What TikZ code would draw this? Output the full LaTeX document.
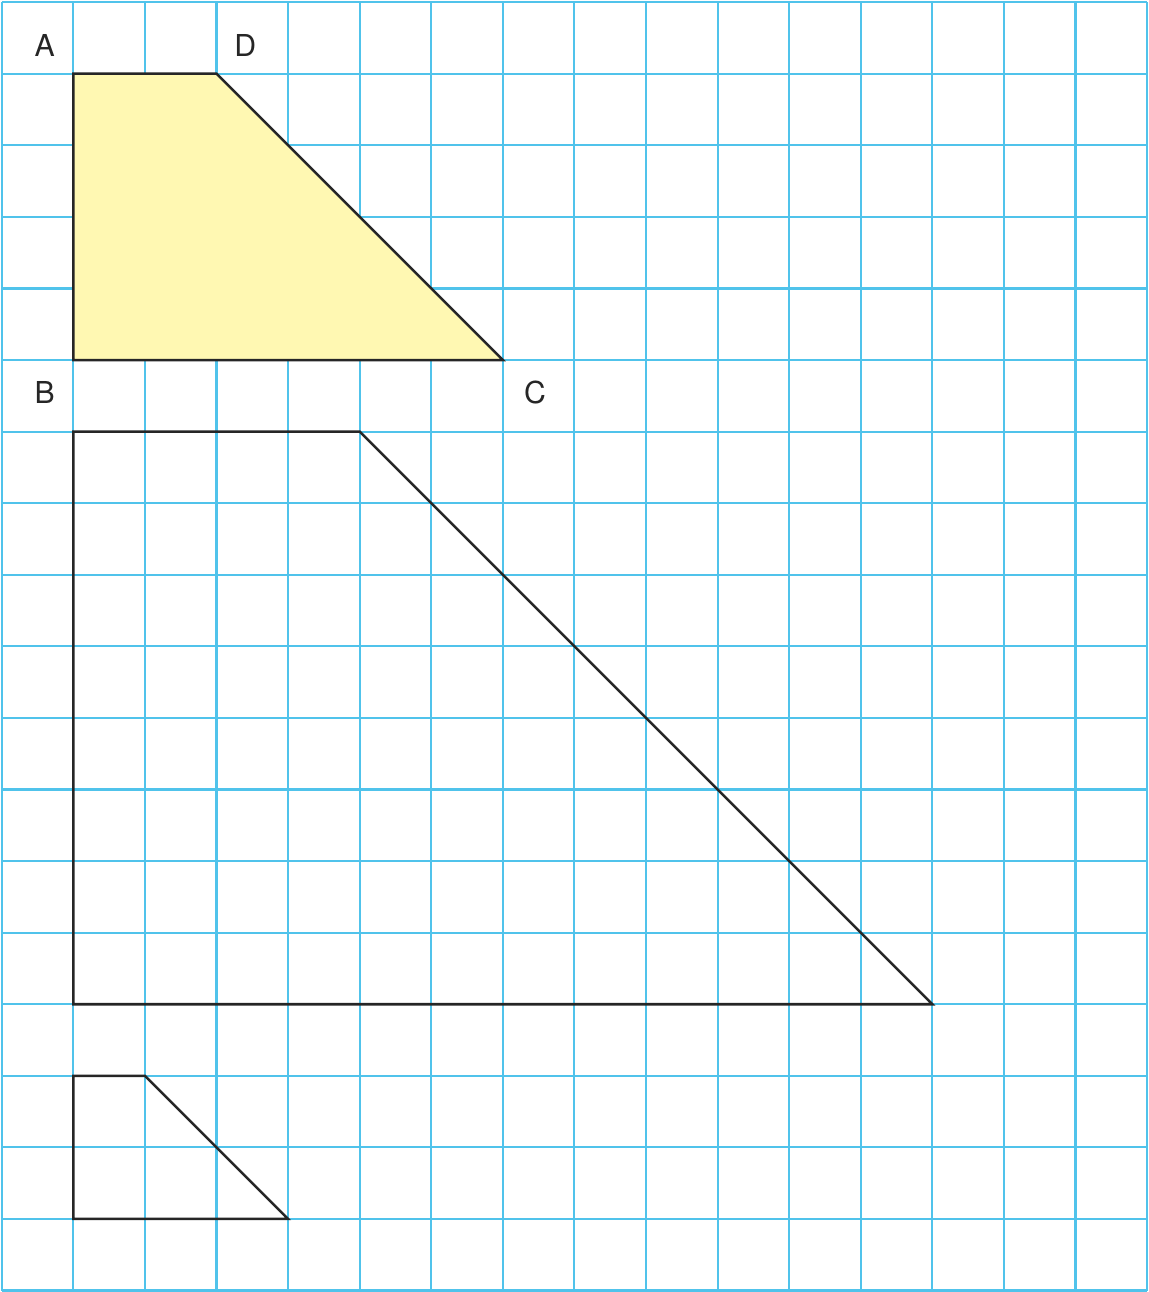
\documentclass[tikz,border=0pt]{standalone}
\usepackage{fontspec}
\setmainfont{TeX Gyre Heros}
\usepackage{tikz}
\definecolor{gridblue}{RGB}{80,195,235}
\definecolor{paleyellow}{RGB}{255,248,178}
\begin{document}
\begin{tikzpicture}[x=1cm, y=1cm,
  gridline/.style={gridblue, line width=0.85pt},
  figline/.style={black!85, line width=1pt, line join=miter},
  lbl/.style={font=\fontsize{12}{14}\selectfont, text=black!85, inner sep=0pt}]
  \useasboundingbox (-0.025,-0.02) rectangle (16.02,18.03);
  % squared paper
  \foreach \x in {0,...,16} \draw[gridline] (\x,0) -- (\x,18);
  \foreach \y in {0,...,18} \draw[gridline] (0,\y) -- (16,\y);
  % original figure ABCD
  \coordinate (A) at (1,17); \coordinate (D) at (3,17);
  \coordinate (C) at (7,13); \coordinate (B) at (1,13);
  \filldraw[figline, fill=paleyellow] (A) -- (D) -- (C) -- (B) -- cycle;
  \node[lbl] (labA) at (0.6,17.4) {A};
  \node[lbl] (labD) at (3.4,17.4) {D};
  \node[lbl] (labB) at (0.6,12.55) {B};
  \node[lbl] (labC) at (7.45,12.55) {C};
  % enlargement
  \draw[figline] (1,12) -- (5,12) -- (13,4) -- (1,4) -- cycle;
  % reduction
  \draw[figline] (1,3) -- (2,3) -- (4,1) -- (1,1) -- cycle;
\end{tikzpicture}
\end{document}
